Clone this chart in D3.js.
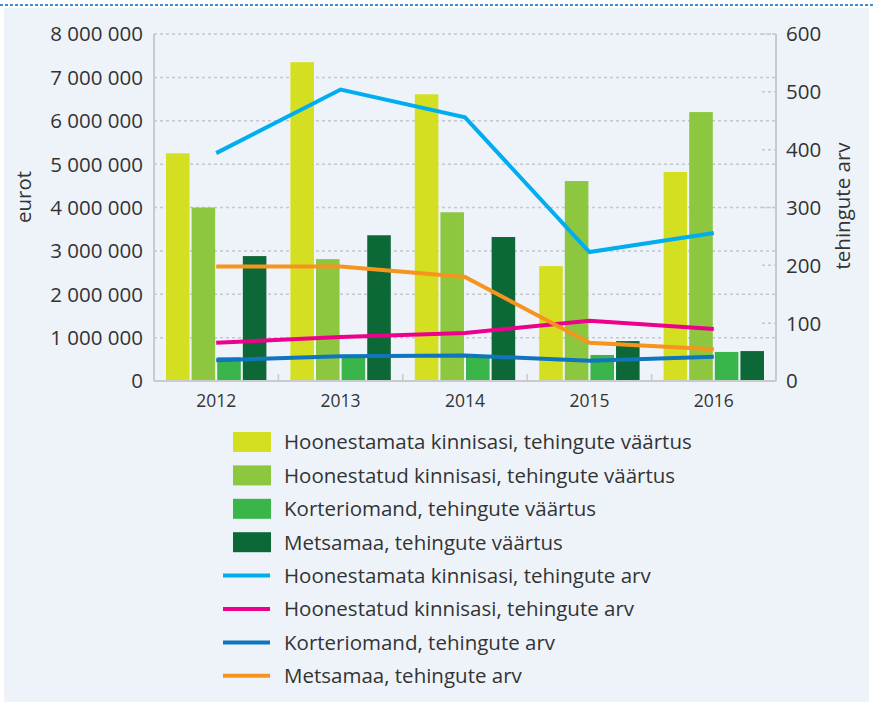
<!DOCTYPE html>
<html>
<head>
<meta charset="utf-8">
<script src="https://cdn.jsdelivr.net/npm/d3@7"></script>
<style>
  body { margin: 0; background: #fff; }
  svg text { font-family: "Open Sans", "Noto Sans", sans-serif; fill: #333; }
</style>
</head>
<body>
<div id="graph1"></div>
<script>
// data
var years = ["2012", "2013", "2014", "2015", "2016"];
var barNames = ["Hoonestamata kinnisasi, tehingute väärtus", "Hoonestatud kinnisasi, tehingute väärtus",
    "Korteriomand, tehingute väärtus", "Metsamaa, tehingute väärtus"];
var lineNames = ["Hoonestamata kinnisasi, tehingute arv", "Hoonestatud kinnisasi, tehingute arv",
    "Korteriomand, tehingute arv", "Metsamaa, tehingute arv"];

var hoonestamataVaartus = [5250000, 7350000, 6610000, 2650000, 4820000];
var hoonestatudVaartus = [4000000, 2810000, 3890000, 4610000, 6200000];
var korterVaartus = [550000, 550000, 560000, 600000, 670000];
var metsVaartus = [2880000, 3360000, 3320000, 920000, 690000];

var hoonestamataArv = [394, 504, 456, 223, 256];
var hoonestatudArv = [66, 76, 83, 104, 90];
var korterArv = [36, 43, 44, 35, 42];
var metsArv = [198, 198, 180, 66, 55];

var leftTicks = [0, 1000000, 2000000, 3000000, 4000000, 5000000, 6000000, 7000000, 8000000];
var rightTicks = [0, 100, 200, 300, 400, 500, 600];

var barColors = ["#d4df22", "#8dc63f", "#39b54a", "#0d6838"];
var lineColors = ["#00aeef", "#ec008c", "#0f75bc", "#f7941d"];

var barSeries = [hoonestamataVaartus, hoonestatudVaartus, korterVaartus, metsVaartus];
var lineSeries = [hoonestamataArv, hoonestatudArv, korterArv, metsArv];

var W = 873, H = 702;
var margin = {top: 34, left: 154, right: 97, bottom: 321};
var plotW = W - margin.left - margin.right,
    plotH = H - margin.top - margin.bottom;

var svg = d3.select("#graph1").append("svg")
    .attr("width", W).attr("height", H);

// panel background + dotted top line
svg.append("rect").attr("x", 4).attr("y", 8).attr("width", 865).attr("height", 694).attr("fill", "#eef3fa");
svg.append("line").attr("x1", 0).attr("x2", W).attr("y1", 5).attr("y2", 5)
    .attr("stroke", "#3a8fd6").attr("stroke-width", 2).attr("stroke-dasharray", "3,2");

var g = svg.append("g").attr("transform", "translate(" + margin.left + "," + margin.top + ")");

var x = d3.scaleBand().domain(years).range([0, plotW]);
var xInner = d3.scaleBand().domain(d3.range(4)).range([12, x.bandwidth() - 12]).paddingInner(0.08);
var y = d3.scaleLinear().domain([0, 8000000]).range([plotH, 0]);
var y2 = d3.scaleLinear().domain([0, 600]).range([plotH, 0]);

var fmt = function (v) { return d3.format(",")(v).replace(/,/g, " "); };

// grid lines
g.selectAll(".grid").data(leftTicks.slice(1)).enter().append("line")
    .attr("x1", 0).attr("x2", plotW)
    .attr("y1", function (d) { return y(d); }).attr("y2", function (d) { return y(d); })
    .attr("stroke", "#c4c7cc").attr("stroke-width", 1.5).attr("stroke-dasharray", "3,3");
g.selectAll(".rgrid").data(rightTicks.slice(1)).enter().append("line")
    .attr("x1", plotW - 14).attr("x2", plotW)
    .attr("y1", function (d) { return y2(d); }).attr("y2", function (d) { return y2(d); })
    .attr("stroke", "#c4c7cc").attr("stroke-width", 1.5).attr("stroke-dasharray", "3,3");

// axes lines
g.append("line").attr("x1", 0).attr("x2", 0).attr("y1", 0).attr("y2", plotH)
    .attr("stroke", "#c8cacd").attr("stroke-width", 2);
g.append("line").attr("x1", plotW).attr("x2", plotW).attr("y1", 0).attr("y2", plotH)
    .attr("stroke", "#c8cacd").attr("stroke-width", 2);

// bars
var groups = g.selectAll(".year").data(years).enter().append("g")
    .attr("transform", function (d) { return "translate(" + x(d) + ",0)"; });
groups.selectAll("rect").data(function (d, i) {
    return barSeries.map(function (s, k) { return {k: k, value: s[i]}; });
}).enter().append("rect")
    .attr("x", function (d) { return xInner(d.k); })
    .attr("width", xInner.bandwidth())
    .attr("y", function (d) { return y(d.value); })
    .attr("height", function (d) { return plotH - y(d.value); })
    .attr("fill", function (d) { return barColors[d.k]; });

// x axis
g.append("line").attr("x1", 0).attr("x2", plotW).attr("y1", plotH).attr("y2", plotH)
    .attr("stroke", "#c8cacd").attr("stroke-width", 2);
g.selectAll(".xtick").data(years.slice(1)).enter().append("line")
    .attr("x1", function (d) { return x(d); }).attr("x2", function (d) { return x(d); })
    .attr("y1", plotH - 7).attr("y2", plotH)
    .attr("stroke", "#c8cacd").attr("stroke-width", 1.5);
g.selectAll(".xlab").data(years).enter().append("text")
    .attr("x", function (d) { return x(d) + x.bandwidth() / 2; })
    .attr("y", plotH + 26)
    .attr("text-anchor", "middle").style("font-size", "17.5px")
    .text(function (d) { return d; });

// left / right tick labels
g.selectAll(".ylab").data(leftTicks).enter().append("text")
    .attr("x", -11).attr("y", function (d) { return y(d); }).attr("dy", "0.36em")
    .attr("text-anchor", "end").style("font-size", "20.5px")
    .text(function (d) { return fmt(d); });
g.selectAll(".y2lab").data(rightTicks).enter().append("text")
    .attr("x", plotW + 10).attr("y", function (d) { return y2(d); }).attr("dy", "0.36em")
    .style("font-size", "20.5px")
    .text(function (d) { return d; });

// axis titles
svg.append("text").attr("transform", "translate(31,197) rotate(-90)")
    .attr("text-anchor", "middle").style("font-size", "20.5px").text("eurot");
svg.append("text").attr("transform", "translate(850,206) rotate(-90)")
    .attr("text-anchor", "middle").style("font-size", "20.5px").text("tehingute arv");

// lines
var line = d3.line()
    .x(function (d, i) { return x(years[i]) + x.bandwidth() / 2; })
    .y(function (d) { return y2(d); });
g.selectAll(".series").data(lineSeries).enter().append("path")
    .attr("d", function (d) { return line(d); })
    .attr("fill", "none")
    .attr("stroke", function (d, i) { return lineColors[i]; })
    .attr("stroke-width", 4);

// legend
var legend = svg.append("g");
var rowY = function (i) { return 442 + i * 33.4; };
legend.selectAll(".lb").data(barNames).enter().append("rect")
    .attr("x", 233).attr("y", function (d, i) { return rowY(i) - 10; })
    .attr("width", 38).attr("height", 20)
    .attr("fill", function (d, i) { return barColors[i]; });
legend.selectAll(".ll").data(lineNames).enter().append("line")
    .attr("x1", 223).attr("x2", 270)
    .attr("y1", function (d, i) { return rowY(i + 4); }).attr("y2", function (d, i) { return rowY(i + 4); })
    .attr("stroke", function (d, i) { return lineColors[i]; })
    .attr("stroke-width", 4);
legend.selectAll(".lt").data(barNames.concat(lineNames)).enter().append("text")
    .attr("x", 284).attr("y", function (d, i) { return rowY(i); }).attr("dy", "0.36em")
    .style("font-size", "20.5px")
    .text(function (d) { return d; });
</script>
</body>
</html>
